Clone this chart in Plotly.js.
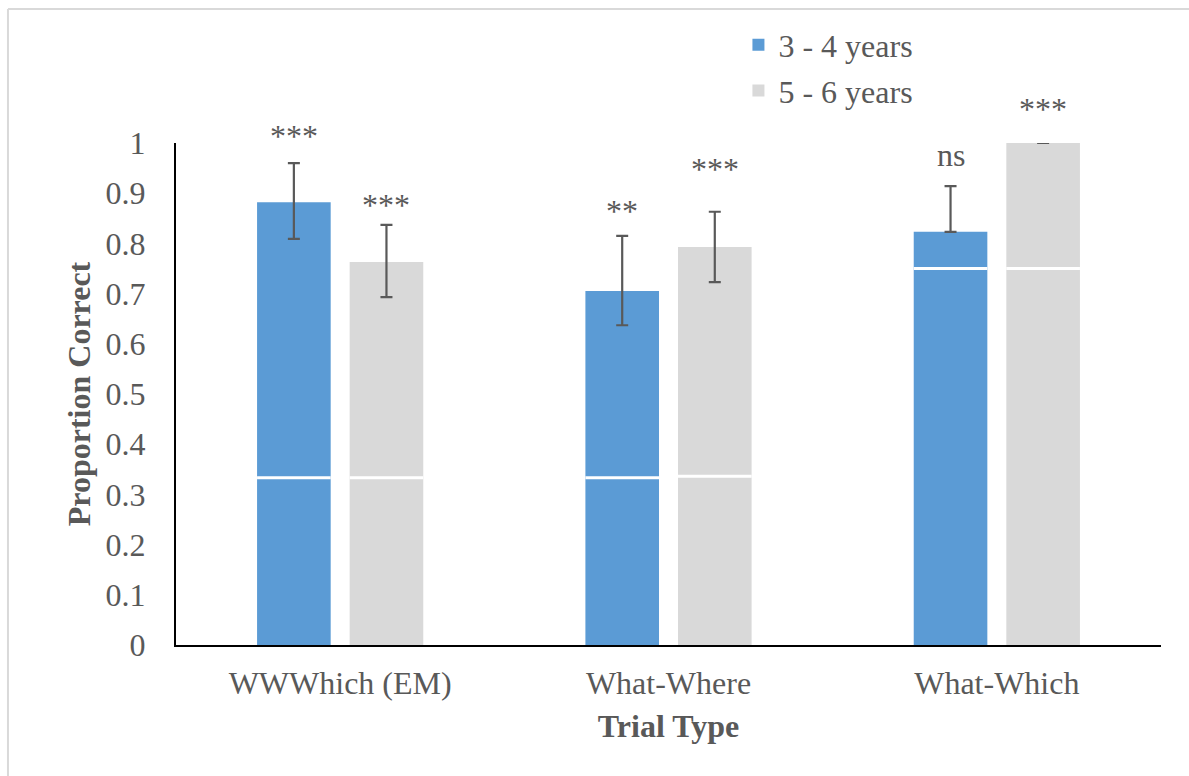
<!DOCTYPE html>
<html>
<head>
<meta charset="utf-8">
<script src="https://cdn.plot.ly/plotly-3.0.1.min.js"></script>
<style>
  html, body { margin: 0; padding: 0; background: #ffffff; }
  #chart { width: 1189px; height: 776px; }
</style>
</head>
<body>
<div id="chart"></div>
<script>
// ---- data ----
const categories = ["WWWhich (EM)", "What-Where", "What-Which"];
const seriesNames = ["3 - 4 years", "5 - 6 years"];

const young = [0.882, 0.705, 0.823];
const youngErrPlus = [0.078, 0.110, 0.091];
const youngErrMinus = [0.073, 0.068, 0.0];
const youngChance = [0.333, 0.333, 0.75];
const youngSig = ["***", "**", "ns"];
const youngSigY = [1.020, 0.871, 0.972];

const old = [0.763, 0.793, 1.0];
const oldErrPlus = [0.074, 0.070, 0.0];
const oldErrMinus = [0.070, 0.070, 0.0];
const oldChance = [0.333, 0.336, 0.75];
const oldSig = ["***", "***", "***"];
const oldSigY = [0.884, 0.956, 1.074];

const yTickVals = [0, 0.1, 0.2, 0.3, 0.4, 0.5, 0.6, 0.7, 0.8, 0.9, 1];
const yTickText = ["0", "0.1", "0.2", "0.3", "0.4", "0.5", "0.6", "0.7", "0.8", "0.9", "1"];

// ---- styling ----
const BLUE = "#5B9BD5";
const GRAY = "#D9D9D9";
const TEXT = "#595959";
const FONT = "Liberation Serif";
const FS = 32;
const BARGAP = 0.436;
const BARGROUPGAP = 0.205;
const Y_MIN = 0, Y_MAX = 1;

const slot = (1 - BARGAP) / 2;
const halfBar = slot * (1 - BARGROUPGAP) / 2;
const offsets = [-slot / 2, slot / 2];

const errStyle = { type: "data", symmetric: false, color: TEXT, thickness: 2.2, width: 6 };

const traces = [
  {
    type: "bar", name: seriesNames[0], x: categories, y: young, legendgroup: "a",
    marker: { color: BLUE },
    error_y: Object.assign({ array: youngErrPlus, arrayminus: youngErrMinus }, errStyle),
    hoverinfo: "skip"
  },
  {
    type: "bar", name: seriesNames[1], x: categories, y: old, legendgroup: "b",
    marker: { color: GRAY },
    error_y: Object.assign({ array: oldErrPlus, arrayminus: oldErrMinus }, errStyle),
    hoverinfo: "skip"
  }
];

// chance-level white lines across each bar
const shapes = [];
[youngChance, oldChance].forEach((arr, s) => {
  arr.forEach((v, i) => {
    const c = i + offsets[s];
    shapes.push({
      type: "line", xref: "x", yref: "y",
      x0: c - halfBar, x1: c + halfBar, y0: v, y1: v,
      line: { color: "#ffffff", width: 3 }, layer: "above"
    });
  });
});
// faint outer frame (top and left edges visible in the reference)
shapes.push({ type: "line", xref: "paper", yref: "paper", x0: -0.1706, x1: 1.2, y0: 1.267, y1: 1.267, line: { color: "#d9d9d9", width: 2 } });
shapes.push({ type: "line", xref: "paper", yref: "paper", x0: -0.1706, x1: -0.1706, y0: 1.267, y1: -0.5, line: { color: "#d9d9d9", width: 2 } });

// significance labels (paper y maps 1:1 to data y because the range is [0, 1])
const annotations = [];
[[youngSig, youngSigY], [oldSig, oldSigY]].forEach((pair, s) => {
  pair[0].forEach((txt, i) => {
    const isStar = txt.indexOf("*") >= 0;
    annotations.push({
      x: i + offsets[s], xref: "x",
      y: (pair[1][i] - Y_MIN) / (Y_MAX - Y_MIN), yref: "paper",
      text: txt, showarrow: false, xanchor: "center", yanchor: "middle",
      yshift: isStar ? -3.5 : 2,
      font: { family: FONT, size: FS, color: TEXT }
    });
  });
});

const layout = {
  width: 1189, height: 776,
  margin: { l: 176, r: 28, t: 143, b: 131 },
  paper_bgcolor: "#ffffff", plot_bgcolor: "#ffffff",
  barmode: "group", bargap: BARGAP, bargroupgap: BARGROUPGAP,
  font: { family: FONT, size: FS, color: TEXT },
  showlegend: true,
  legend: {
    x: 0.571, y: 1.25, xanchor: "left", yanchor: "top",
    font: { family: FONT, size: FS, color: TEXT },
    bgcolor: "rgba(0,0,0,0)", tracegroupgap: 1, itemwidth: 30
  },
  xaxis: {
    type: "category", range: [-0.5, 2.5],
    showline: true, linecolor: "#000000", linewidth: 2,
    showgrid: false, zeroline: false, ticks: "", ticklabelstandoff: 9,
    tickfont: { family: FONT, size: FS, color: TEXT },
    title: { text: "<b>Trial Type</b>", standoff: 14, font: { family: FONT, size: FS, color: TEXT } },
    fixedrange: true
  },
  yaxis: {
    range: [Y_MIN, Y_MAX], tickvals: yTickVals, ticktext: yTickText,
    showline: true, linecolor: "#000000", linewidth: 2,
    showgrid: false, zeroline: false, ticks: "", ticklabelstandoff: 22,
    tickfont: { family: FONT, size: FS, color: TEXT },
    title: { text: "<b>Proportion Correct</b>", standoff: 5, font: { family: FONT, size: FS, color: TEXT } },
    fixedrange: true
  },
  shapes: shapes,
  annotations: annotations
};

Plotly.newPlot("chart", traces, layout, { displayModeBar: false, staticPlot: true });
</script>
</body>
</html>
